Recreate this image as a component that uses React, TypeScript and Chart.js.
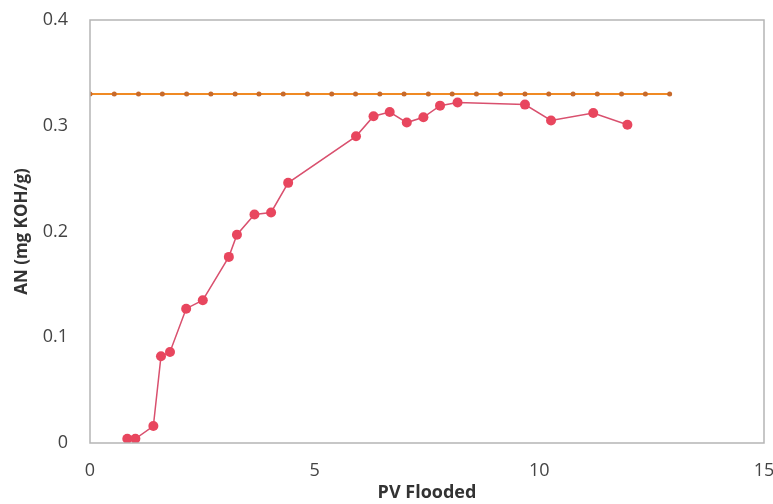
import React, { useEffect, useRef } from "react";
import { Chart, registerables } from "chart.js";

Chart.register(...registerables);

const pvFlooded = [0.83, 1.01, 1.41, 1.58, 1.78, 2.14, 2.51, 3.09, 3.27, 3.66, 4.03, 4.41, 5.92, 6.31, 6.67, 7.05, 7.42, 7.79, 8.18, 9.68, 10.26, 11.2, 11.96];
const anValues = [0.004, 0.004, 0.016, 0.082, 0.086, 0.127, 0.135, 0.176, 0.197, 0.216, 0.218, 0.246, 0.29, 0.309, 0.313, 0.303, 0.308, 0.319, 0.322, 0.32, 0.305, 0.312, 0.301];
const refX = [0, 0.54, 1.08, 1.61, 2.15, 2.69, 3.23, 3.76, 4.3, 4.84, 5.38, 5.91, 6.45, 6.99, 7.53, 8.06, 8.6, 9.14, 9.68, 10.21, 10.75, 11.29, 11.83, 12.36, 12.9];
const refY = [0.33, 0.33, 0.33, 0.33, 0.33, 0.33, 0.33, 0.33, 0.33, 0.33, 0.33, 0.33, 0.33, 0.33, 0.33, 0.33, 0.33, 0.33, 0.33, 0.33, 0.33, 0.33, 0.33, 0.33, 0.33];
const xTicks = [0, 5, 10, 15];
const yTicks = [0, 0.1, 0.2, 0.3, 0.4];

const frame = {
  id: "frame",
  afterDatasetsDraw(chart: any) {
    const { ctx, chartArea } = chart;
    ctx.save();
    ctx.strokeStyle = "#b5b5b5";
    ctx.lineWidth = 1.5;
    ctx.strokeRect(chartArea.left, chartArea.top, chartArea.right - chartArea.left, chartArea.bottom - chartArea.top);
    ctx.restore();
  },
};

export default function App() {
  const ref = useRef<HTMLCanvasElement>(null);
  useEffect(() => {
    document.body.style.margin = "0";
    const chart = new Chart(ref.current!, {
      type: "scatter",
      data: {
        datasets: [
          {
            data: refX.map((x, i) => ({ x, y: refY[i] })),
            showLine: true,
            borderColor: "#f08a24",
            borderWidth: 2,
            pointRadius: 2.5,
            pointBackgroundColor: "#c76a2c",
            pointBorderWidth: 0,
          },
          {
            data: pvFlooded.map((x, i) => ({ x, y: anValues[i] })),
            showLine: true,
            borderColor: "#d9506e",
            borderWidth: 1.5,
            pointRadius: 5,
            pointBackgroundColor: "#e8465e",
            pointBorderWidth: 0,
          },
        ],
      },
      options: {
        animation: false,
        responsive: false,
        layout: { padding: { top: 20, right: 9, left: 0, bottom: 0 } },
        plugins: { legend: { display: false }, tooltip: { enabled: false } },
        scales: {
          x: {
            type: "linear",
            min: 0,
            max: 15,
            afterBuildTicks: (axis: any) => {
              axis.ticks = xTicks.map((v) => ({ value: v }));
            },
            afterFit: (axis: any) => {
              axis.height = 61;
              axis.paddingLeft = 0;
              axis.paddingRight = 0;
            },
            grid: { display: false, drawTicks: false },
            border: { display: false },
            ticks: { padding: 17, color: "#444", font: { family: "Open Sans", size: 18 } },
            title: {
              display: true,
              text: "PV Flooded",
              color: "#333",
              font: { family: "Open Sans", size: 18, weight: "bold" },
              padding: { top: 0, bottom: 0 },
            },
          },
          y: {
            type: "linear",
            min: 0,
            max: 0.4,
            afterBuildTicks: (axis: any) => {
              axis.ticks = yTicks.map((v) => ({ value: v }));
            },
            afterFit: (axis: any) => {
              axis.width = 90;
              axis.paddingTop = 0;
              axis.paddingBottom = 0;
            },
            grid: { display: false, drawTicks: false },
            border: { display: false },
            ticks: {
              padding: 22,
              color: "#444",
              font: { family: "Open Sans", size: 18 },
              callback: (v: any) => String(Number(v)),
            },
            title: {
              display: true,
              text: "AN (mg KOH/g)",
              color: "#333",
              font: { family: "Open Sans", size: 17, weight: "bold" },
              padding: { top: 12, bottom: 0 },
            },
          },
        },
      },
      plugins: [frame],
    });
    return () => chart.destroy();
  }, []);
  return (
    <div style={{ width: 773, height: 504, background: "#fff" }}>
      <canvas ref={ref} width={773} height={504} />
    </div>
  );
}
